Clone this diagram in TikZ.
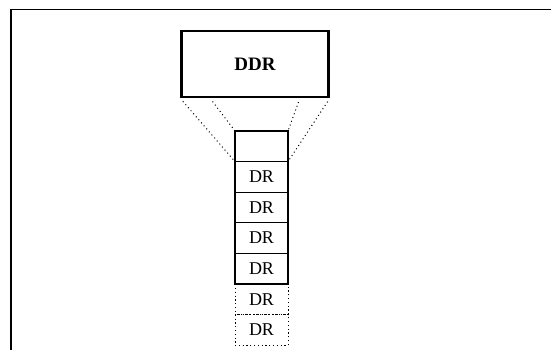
\documentclass[tikz,border=0pt]{standalone}
\usepackage{fontspec}
\setmainfont{Liberation Serif}
\usetikzlibrary{positioning, calc}
\tikzset{
  bigbox/.style={
    rectangle, draw, line width=2.6pt, minimum width=147pt, minimum height=66pt,
    font=\fontsize{19}{20}\selectfont\bfseries
  },
  cell/.style={
    rectangle, draw, line width=1.1pt, minimum width=53pt, minimum height=30.6pt,
    inner sep=0pt, outer sep=0pt, font=\fontsize{18}{19}\selectfont
  },
  ghostcell/.style={cell, line width=1pt, dash pattern=on 1.2pt off 2.6pt},
  fan/.style={line width=1pt, dash pattern=on 1pt off 3pt, shorten <=4pt}
}
\begin{document}
\begin{tikzpicture}[x=1pt, y=-1pt]
  \useasboundingbox (0,0) rectangle (551,350);
  % frame
  \draw[line width=0.8pt] (551,9) -- (11,9);
  \draw[line width=1.2pt] (11,9) -- (11,350);

  \node[bigbox] (ddr) at (255,64) {DDR};
  \node[cell] (head) at (261.5,146.3) {};
  \node[cell, below=0pt of head] (dr1) {DR};
  \node[cell, below=0pt of dr1] (dr2) {DR};
  \node[cell, below=0pt of dr2] (dr3) {DR};
  \node[cell, below=0pt of dr3] (dr4) {DR};
  \node[ghostcell, below=0pt of dr4] (dr5) {DR};
  \node[ghostcell, below=0pt of dr5] (dr6) {DR};

  \coordinate (fanl) at ($(ddr.south west)!0.2!(ddr.south east)$);
  \coordinate (fanr) at ($(ddr.south west)!0.8!(ddr.south east)$);
  \draw[fan] (ddr.south west) -- (head.south west);
  \draw[fan] (fanl) -- (head.north west);
  \draw[fan] (fanr) -- (head.north east);
  \draw[fan] (ddr.south east) -- (head.south east);
\end{tikzpicture}
\end{document}
